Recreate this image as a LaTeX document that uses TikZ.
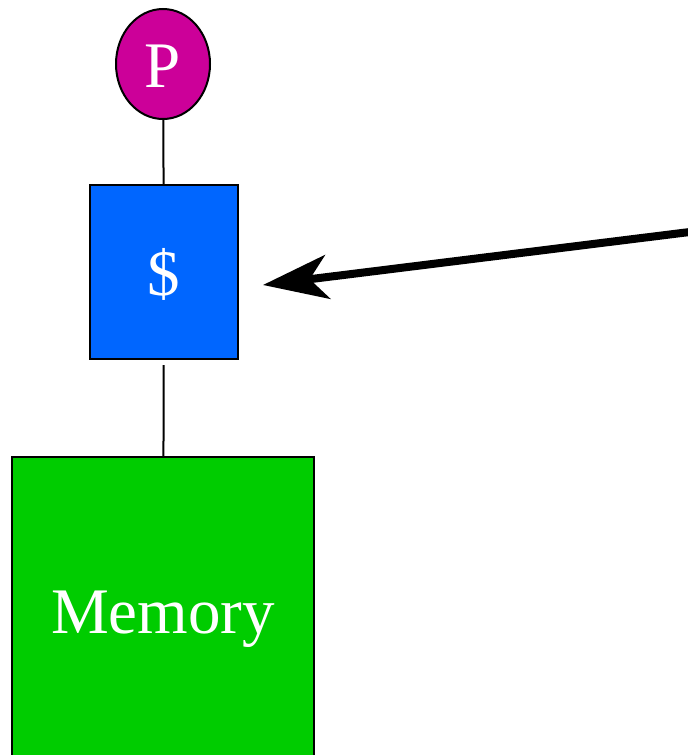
\documentclass[tikz,border=0pt]{standalone}
\usepackage{fontspec}
\setmainfont{Liberation Serif}
\usepackage{xcolor}
\usepackage{tikz}
\usetikzlibrary{shapes.geometric,arrows.meta}

\definecolor{procpink}{HTML}{CC0099}
\definecolor{cacheblue}{HTML}{0066FF}
\definecolor{memgreen}{HTML}{00CC00}

\begin{document}
\begin{tikzpicture}[x=1pt,y=-1pt,
		unit/.style={draw=black,line width=2pt,text=white,inner sep=0pt,text height=46pt,text depth=0pt,font=\fontsize{65}{65}\selectfont},
		link/.style={line width=2pt},
		pointer/.style={line width=8pt,-{Stealth[length=65pt,width=44pt,inset=18pt]}}]
			\useasboundingbox (0,0) rectangle (688,755);
			\clip (0,0) rectangle (688,755);
			\node[unit,ellipse,fill=procpink,minimum width=94pt,minimum height=110pt](proc) at (163,64) {P};
			\node[unit,rectangle,fill=cacheblue,minimum width=148pt,minimum height=174pt](cache) at (164,272) {\$};
			\node[unit,rectangle,fill=memgreen,minimum width=302pt,minimum height=306pt](mem) at (163,610) {Memory};
			\coordinate (src) at (730,227);
			\draw[link] (proc) -- (cache);
			\draw[link,shorten <=5pt] (cache) -- (mem);
			\draw[pointer] (src) -- ([shift={(24,13)}]cache.east);
\end{tikzpicture}
\end{document}
